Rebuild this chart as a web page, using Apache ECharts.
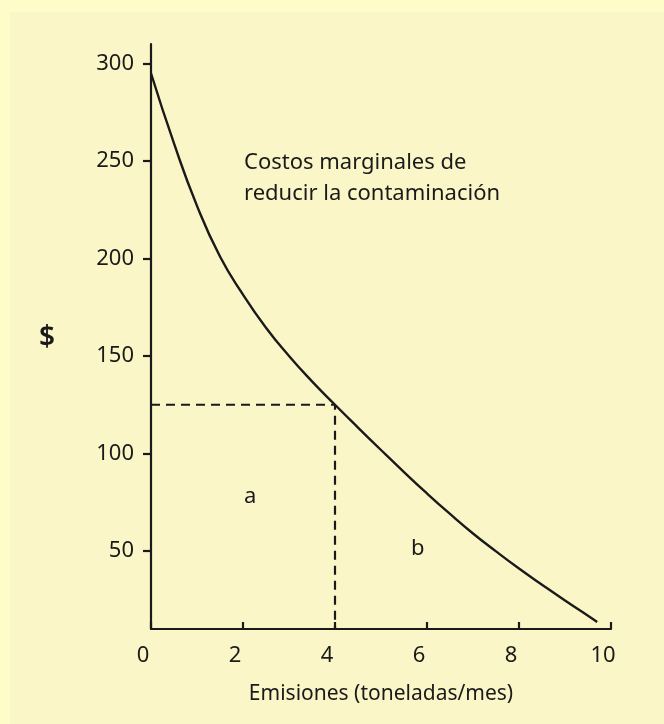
<!DOCTYPE html>
<html>
<head>
<meta charset="utf-8">
<script src="https://cdn.jsdelivr.net/npm/echarts@6/dist/echarts.min.js"></script>
<style>
  html, body { margin: 0; padding: 0; background: #FEFDCA; }
  #chart { width: 664px; height: 724px; }
</style>
</head>
<body>
<div id="chart"></div>
<script>
// Marginal abatement cost curve (x: emissions, y: $)
const emisiones = [0, 0.5, 1, 1.5, 2, 2.5, 3, 3.5, 4, 4.5, 5, 5.5, 6, 6.5, 7, 7.5, 8, 8.5, 9, 9.5, 9.7];
const costoMarginal = [295, 259, 227, 201, 181.5, 164.5, 150, 137, 125, 113.3, 101.8, 90.5, 79.5, 69, 59, 49.8, 41, 32.7, 24.6, 16.8, 13.6];

// Dashed guide at emissions = 4, cost = 125
const guiaX = [0, 4, 4];
const guiaY = [125, 125, 10];

const yTicks = [50, 100, 150, 200, 250, 300];
const xTicks = [0, 2, 4, 6, 8, 10];

const fontFamily = '"Noto Sans", "Open Sans", sans-serif';
const ink = '#1a1a1a';

const chart = echarts.init(document.getElementById('chart'), null, { renderer: 'canvas' });

chart.setOption({
  backgroundColor: 'transparent',
  animation: false,
  textStyle: { fontFamily: fontFamily, color: ink },
  graphic: [
    {
      type: 'rect', z: -10, silent: true,
      shape: { x: 10, y: 12, width: 660, height: 720 },
      style: { fill: '#FBF6C7' }
    },
    {
      type: 'text', left: 244, top: 147,
      style: {
        text: 'Costos marginales de\nreducir la contaminación',
        font: '22px ' + fontFamily, fill: ink, lineHeight: 31
      }
    },
    {
      type: 'text', left: 244, top: 486,
      style: { text: 'a', font: '22px ' + fontFamily, fill: ink }
    },
    {
      type: 'text', left: 411, top: 538,
      style: { text: 'b', font: '22px ' + fontFamily, fill: ink }
    },
    {
      type: 'text', left: 39, top: 324,
      style: { text: '$', font: '600 28px ' + fontFamily, fill: ink }
    }
  ],
  grid: { left: 151, right: 53, top: 44, bottom: 95, containLabel: false },
  xAxis: {
    type: 'value',
    min: 0, max: 10, interval: 2,
    name: 'Emisiones (toneladas/mes)',
    nameLocation: 'middle',
    nameGap: 55,
    nameTextStyle: { fontSize: 21, color: ink, fontFamily: fontFamily },
    axisLine: { show: true, lineStyle: { color: ink, width: 2.2 } },
    axisTick: { show: true, inside: true, length: 7, lineStyle: { color: ink, width: 2.2 } },
    axisLabel: {
      fontSize: 22, color: ink, margin: 16, padding: [0, 16, 0, 0],
      customValues: xTicks
    },
    splitLine: { show: false }
  },
  yAxis: {
    type: 'value',
    min: 10, max: 310,
    axisLine: { show: true, lineStyle: { color: ink, width: 2.2 } },
    axisTick: { show: true, inside: false, length: 8, lineStyle: { color: ink, width: 2.2 }, customValues: yTicks },
    axisLabel: { fontSize: 22, color: ink, margin: 17, customValues: yTicks },
    splitLine: { show: false }
  },
  series: [
    {
      name: 'Costos marginales',
      type: 'line',
      data: emisiones.map((x, i) => [x, costoMarginal[i]]),
      smooth: 0.5,
      showSymbol: false,
      lineStyle: { color: ink, width: 2.4 },
      z: 3
    },
    {
      name: 'guía',
      type: 'line',
      data: guiaX.map((x, i) => [x, guiaY[i]]),
      showSymbol: false,
      lineStyle: { color: ink, width: 2.2, type: [9, 6] },
      z: 2
    }
  ]
});
</script>
</body>
</html>
